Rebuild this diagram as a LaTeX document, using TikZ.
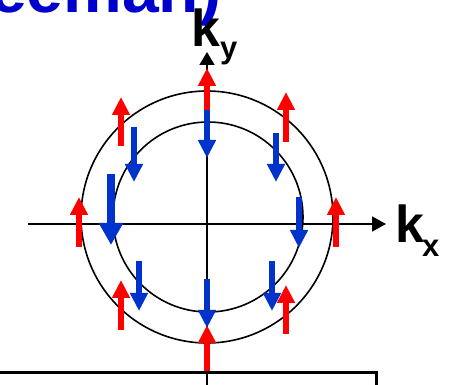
\documentclass[tikz,border=0pt]{standalone}
\usepackage{fontspec}
\setmainfont{Liberation Sans}
\usetikzlibrary{arrows.meta}
\definecolor{tblue}{RGB}{0,0,204}
\definecolor{sblue}{RGB}{0,51,204}
\definecolor{sred}{RGB}{255,0,0}
\tikzset{
  uparr/.style={sred, line width=6pt, -{Triangle[length=18pt,width=17pt]}},
  dnarr/.style={sblue, line width=6pt, -{Triangle[length=18pt,width=17pt]}},
  bigdn/.style={sblue, line width=8pt, -{Triangle[length=22pt,width=23pt]}},
  axis/.style={black, line width=1.6pt},
  ring/.style={black, line width=1.6pt},
  lbl/.style={font=\fontsize{52}{52}\selectfont\bfseries, inner sep=0pt, anchor=base west},
  sublbl/.style={font=\fontsize{31}{31}\selectfont\bfseries, inner sep=0pt, anchor=base west},
}
\begin{document}
\begin{tikzpicture}[x=1pt,y=-1pt]
\useasboundingbox (0,0) rectangle (451,385);
\clip (0,0) rectangle (451,385);
% title fragment
\node[text=tblue, font=\fontsize{66}{66}\selectfont\bfseries, inner sep=0pt, anchor=base west] (title) at (-10,13) {eeman)};
% circles
\draw[ring] (207,217) circle[radius=126pt];
\draw[ring] (208,217) circle[radius=95pt];
% axes
\coordinate (yb) at (207,390);
\coordinate (yt) at (207,52);
\coordinate (xl) at (28,224);
\coordinate (xr) at (386,224);
\draw[axis, -{Triangle[length=13pt,width=15pt]}] (yb) -- (yt);
\draw[axis, -{Triangle[length=14pt,width=15pt]}] (xl) -- (xr);
% labels
\node[lbl] (k1) at (191,47) {k};
\node[sublbl] (ysub) at (220,59) {y};
\node[lbl] (k2) at (395,243) {k};
\node[sublbl] (xsub) at (422,257) {x};
% box
\draw[black, line width=3pt] (-5,373) -- (376,373) -- (376,395);
% red (outer) arrows
\draw[uparr] (207,110) -- (207,68);
\draw[uparr] (121,146) -- (121,97);
\draw[uparr] (286,142) -- (286,92);
\draw[uparr] (79,247) -- (79,197);
\draw[uparr] (336,247) -- (336,197);
\draw[uparr] (121,330) -- (121,280);
\draw[uparr] (286,334) -- (286,285);
\draw[uparr] (207,371) -- (207,325);
% blue (inner) arrows
\draw[dnarr] (207,110) -- (207,158);
\draw[dnarr] (134,127) -- (134,182);
\draw[dnarr] (276,133) -- (276,182);
\draw[bigdn] (111,174) -- (111,245);
\draw[dnarr] (299,197) -- (299,248);
\draw[dnarr] (139,261) -- (139,311);
\draw[dnarr] (272,261) -- (272,311);
\draw[dnarr] (207,279) -- (207,328);
\end{tikzpicture}
\end{document}
